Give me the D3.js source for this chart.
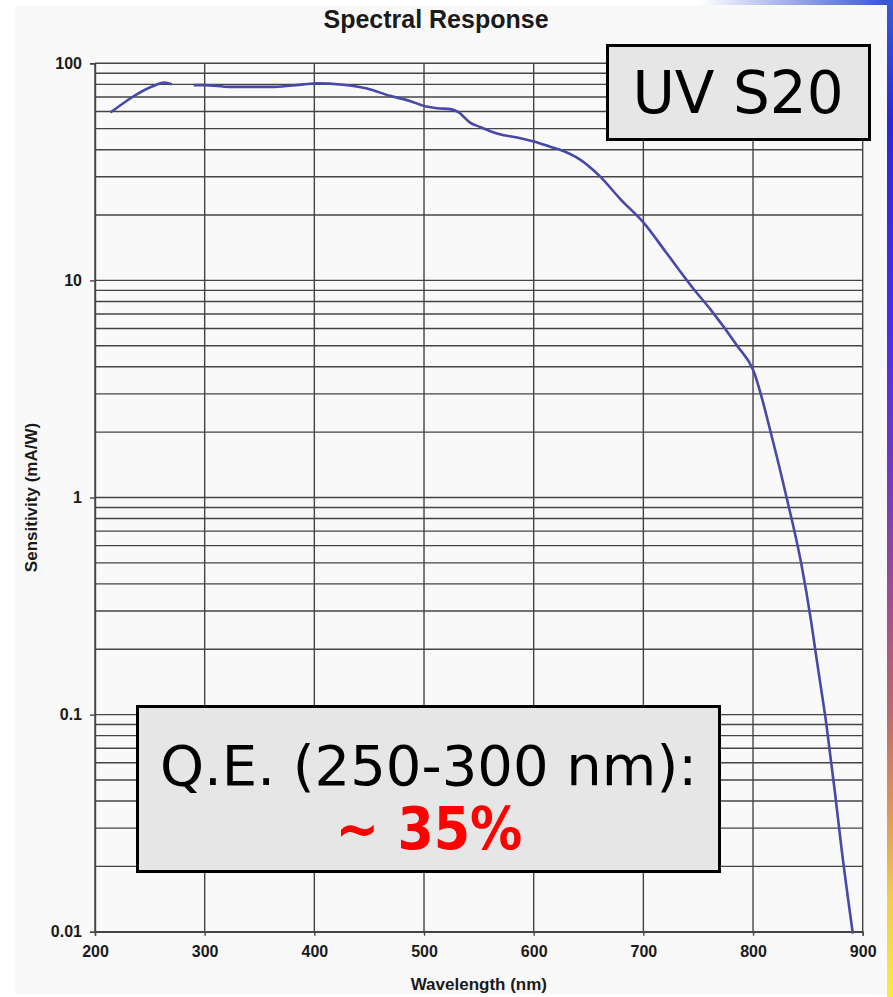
<!DOCTYPE html>
<html>
<head>
<meta charset="utf-8">
<script src="https://cdn.jsdelivr.net/npm/d3@7"></script>
<style>
  html, body { margin: 0; padding: 0; background: #ffffff; }
  svg { display: block; }
</style>
</head>
<body>
<svg id="chart" width="893" height="997"></svg>
<script>
// Spectral response of a UV S20 photocathode (sensitivity in mA/W vs wavelength in nm)
const wavelength = [214, 255, 263, 270, 280, 290, 300, 323, 363, 390, 402, 426, 448, 469, 487, 502, 512, 524, 531, 542, 551, 569, 585, 600, 615, 624, 642, 660, 679, 700, 721, 746, 761, 786, 800, 818, 830, 844, 853, 858, 867, 874.5, 880.6, 891];
const sensitivity = [59.3, 79.3, 81.6, 80.0, null, 79.3, 79.3, 77.9, 77.9, 80.0, 80.8, 79.6, 76.5, 70.8, 67.1, 63.2, 62.1, 61.5, 59.7, 53.3, 50.9, 47.1, 45.5, 43.6, 41.3, 40.0, 36.1, 30.3, 23.7, 18.5, 13.4, 9.11, 7.37, 4.96, 3.88, 1.83, 1.03, 0.495, 0.268, 0.18, 0.0892, 0.0446, 0.0244, 0.0098];

const xTicks = [200, 300, 400, 500, 600, 700, 800, 900];
const yTicks = [0.01, 0.1, 1, 10, 100];
const yTickLabels = ["0.01", "0.1", "1", "10", "100"];

const titleText = "Spectral Response";
const xTitle = "Wavelength (nm)";
const yTitle = "Sensitivity (mA/W)";
const tagText = "UV S20";
const noteLine1 = "Q.E. (250-300 nm):";
const noteLine2 = "~ 35%";

const points = wavelength.map((w, i) => ({ w: w, s: sensitivity[i] }));

const svg = d3.select("#chart");
const plotLeft = 95, plotRight = 862.7, plotTop = 63.3, plotBottom = 931.7;

const x = d3.scaleLinear().domain([200, 900]).range([plotLeft, plotRight]);
const y = d3.scaleLog().domain([0.01, 100]).range([plotBottom, plotTop]);

// slide decoration: gradient strips along the right and top edges
const defs = svg.append("defs");
const vg = defs.append("linearGradient").attr("id", "edgeV").attr("x1", 0).attr("y1", 0).attr("x2", 0).attr("y2", 1);
[["0", "#3a5ad6"], ["0.12", "#2a2ad6"], ["0.32", "#4a2cf0"], ["0.5", "#7a3cb8"], ["0.62", "#a8508a"], ["0.72", "#c06a6a"], ["0.82", "#e09a58"], ["0.9", "#f2cc50"], ["1", "#f8ec40"]]
  .forEach(s => vg.append("stop").attr("offset", s[0]).attr("stop-color", s[1]));
const hg = defs.append("linearGradient").attr("id", "edgeH").attr("x1", 0).attr("y1", 0).attr("x2", 1).attr("y2", 0);
hg.append("stop").attr("offset", "0").attr("stop-color", "#ffffff");
hg.append("stop").attr("offset", "1").attr("stop-color", "#3050d0");

svg.append("rect").attr("x", 700).attr("y", 0).attr("width", 193).attr("height", 5).attr("fill", "url(#edgeH)");
svg.append("rect").attr("x", 887).attr("y", 0).attr("width", 6).attr("height", 997).attr("fill", "url(#edgeV)");

// chart panel
svg.append("rect").attr("x", 15).attr("y", 5).attr("width", 872).attr("height", 990).attr("fill", "#f9f9f9");

// grid
const grid = svg.append("g").attr("stroke", "#444").attr("stroke-width", 1.4).attr("fill", "none");
grid.selectAll("line.h").data(y.ticks()).join("line")
  .attr("x1", plotLeft).attr("x2", plotRight)
  .attr("y1", d => y(d)).attr("y2", d => y(d));
grid.selectAll("line.v").data(xTicks).join("line")
  .attr("x1", d => x(d)).attr("x2", d => x(d))
  .attr("y1", plotTop).attr("y2", plotBottom);

// axes
const tickFont = "bold 16px 'Liberation Sans', Arial, sans-serif";
const yAxis = d3.axisLeft(y).tickValues(yTicks).tickSize(5).tickPadding(8)
  .tickFormat((d, i) => yTickLabels[i]);
const gy = svg.append("g").attr("transform", `translate(${plotLeft},0)`).call(yAxis);
gy.select(".domain").attr("stroke", "#444").attr("stroke-width", 1.4);
gy.selectAll(".tick line").attr("stroke", "#444").attr("stroke-width", 1.4);
gy.selectAll(".tick text").style("font", tickFont).attr("fill", "#1a1a1a");

const xAxis = d3.axisBottom(x).tickValues(xTicks).tickSize(4).tickPadding(10).tickFormat(d3.format("d"));
const gx = svg.append("g").attr("transform", `translate(0,${plotBottom})`).call(xAxis);
gx.select(".domain").attr("stroke", "#444").attr("stroke-width", 1.4);
gx.selectAll(".tick line").attr("stroke", "#444").attr("stroke-width", 1.4);
gx.selectAll(".tick text").style("font", tickFont).attr("fill", "#1a1a1a");

// response curve
const line = d3.line()
  .defined(d => d.s != null)
  .x(d => x(d.w))
  .y(d => y(d.s))
  .curve(d3.curveMonotoneX);
svg.append("path").datum(points)
  .attr("d", line)
  .attr("fill", "none")
  .attr("stroke", "#4848a8")
  .attr("stroke-width", 2.6)
  .attr("stroke-linejoin", "round");

// titles
svg.append("text").attr("x", 436).attr("y", 28).attr("text-anchor", "middle")
  .style("font", "bold 25px 'Liberation Sans', Arial, sans-serif").attr("fill", "#1a1a1a").text(titleText);
svg.append("text").attr("x", (plotLeft + plotRight) / 2).attr("y", 990).attr("text-anchor", "middle")
  .style("font", "bold 17px 'Liberation Sans', Arial, sans-serif").attr("fill", "#1a1a1a").text(xTitle);
svg.append("text").attr("transform", `translate(37,${(plotTop + plotBottom) / 2}) rotate(-90)`).attr("text-anchor", "middle")
  .style("font", "bold 17px 'Liberation Sans', Arial, sans-serif").attr("fill", "#1a1a1a").text(yTitle);

// tag box
svg.append("rect").attr("x", 607.5).attr("y", 45.5).attr("width", 262).attr("height", 94)
  .attr("fill", "#e6e6e6").attr("stroke", "#000").attr("stroke-width", 3);
svg.append("text").attr("x", 738).attr("y", 113).attr("text-anchor", "middle")
  .style("font", "58px 'DejaVu Sans', sans-serif").attr("fill", "#000").text(tagText);

// note box
svg.append("rect").attr("x", 137.5).attr("y", 706.5).attr("width", 582).attr("height", 165)
  .attr("fill", "#e6e6e6").attr("stroke", "#000").attr("stroke-width", 3);
svg.append("text").attr("x", 428.5).attr("y", 785).attr("text-anchor", "middle")
  .style("font", "56px 'DejaVu Sans', sans-serif").attr("fill", "#000").text(noteLine1);
svg.append("text").attr("x", 429).attr("y", 849).attr("text-anchor", "middle")
  .style("font-family", "'DejaVu Sans', sans-serif").style("font-weight", "bold")
  .style("font-stretch", "condensed").style("font-size", "58px")
  .attr("fill", "#ff0000").text(noteLine2);
</script>
</body>
</html>
